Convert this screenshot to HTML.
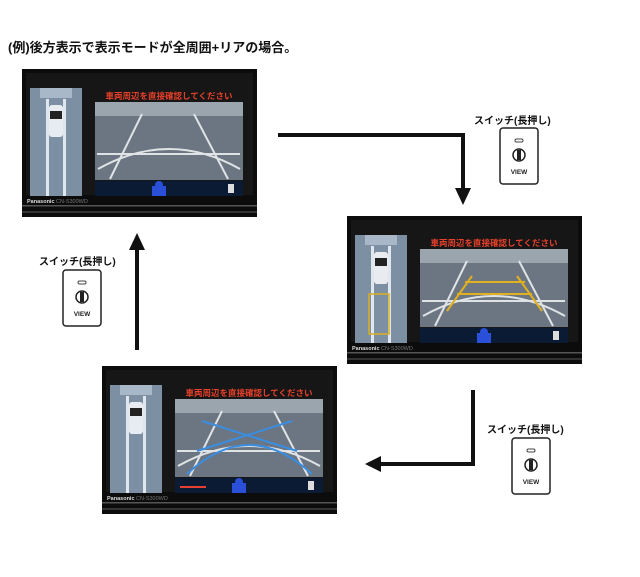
<!DOCTYPE html>
<html><head><meta charset="utf-8"><style>
html,body{margin:0;padding:0;background:#fff;}
body{width:640px;height:577px;position:relative;overflow:hidden;font-family:"Liberation Sans","Noto Sans CJK JP",sans-serif;}
svg{position:absolute;left:0;top:0;}
</style></head><body>
<svg width="640" height="577" viewBox="0 0 640 577" xmlns="http://www.w3.org/2000/svg">
<defs>
<g id="scr">
  <rect x="0" y="0" width="235" height="148" fill="#0c0c0c"/>
  <rect x="4" y="4" width="227" height="122" fill="#161616"/>
  <rect x="0" y="136" width="235" height="1.5" fill="#555"/>
  <rect x="0" y="142" width="235" height="2" fill="#333"/>
  <rect x="8" y="19" width="52" height="108" fill="#7d8fa3"/>
  <rect x="18" y="19" width="32" height="10" fill="#a9b8c9"/>
  <rect x="24" y="30" width="3" height="97" fill="#dfe6ee"/>
  <rect x="41" y="30" width="3" height="97" fill="#dfe6ee"/>
  <rect x="27" y="36" width="14" height="32" rx="3" fill="#e8ecf0"/>
  <rect x="28" y="42" width="12" height="8" fill="#222"/>
  <rect x="73" y="33" width="148" height="78" fill="#6b7682"/>
  <rect x="73" y="33" width="148" height="14" fill="#9aa5ae"/>
  <path d="M76 100 Q147 60 218 100" stroke="#dfe3e6" stroke-width="2" fill="none"/>
  <path d="M88 110 L120 45 M206 110 L172 45 M75 85 L218 85" stroke="#dfe3e6" stroke-width="2" fill="none"/>
  <rect x="73" y="112" width="148" height="15" fill="#0b1b33"/>
  <rect x="130" y="117" width="14" height="10" fill="#2a4fd8"/>
  <circle cx="137" cy="116" r="4" fill="#2a4fd8"/>
  <rect x="206" y="115" width="6" height="9" fill="#ddd"/>
  <text x="147" y="30" font-size="8.5" fill="#e8402a" text-anchor="middle" font-weight="bold">車両周辺を直接確認してください</text>
  <text x="5" y="134" font-size="5.5" fill="#ddd" font-weight="bold">Panasonic <tspan fill="#777" font-weight="normal">CN-S300WD</tspan></text>
</g>
<g id="sw">
  <rect x="0" y="0" width="38" height="56" rx="3" fill="#fff" stroke="#222" stroke-width="1.5"/>
  <rect x="15" y="11" width="8" height="3" rx="1.5" fill="#fff" stroke="#444" stroke-width="1"/>
  <circle cx="19" cy="27" r="6" fill="#fff" stroke="#222" stroke-width="1.5"/>
  <rect x="17" y="22" width="4" height="10" fill="#222"/>
  <text x="19" y="46" font-size="6.5" font-weight="bold" text-anchor="middle" fill="#222">VIEW</text>
</g>
</defs>
<text x="8" y="52" font-size="13" font-weight="bold" fill="#111">(例)後方表示で表示モードが全周囲+リアの場合。</text>
<use href="#scr" x="22" y="69"/>
<use href="#scr" x="347" y="216"/>
<g transform="translate(347,216)">
  <path d="M100 95 L125 60 M195 95 L170 60 M110 78 L185 78 M118 66 L178 66" stroke="#e0b020" stroke-width="2" fill="none"/>
  <rect x="22" y="78" width="20" height="40" fill="none" stroke="#d8b020" stroke-width="1.5"/>
</g>
<use href="#scr" x="102" y="366"/>
<g transform="translate(102,366)">
  <path d="M85 108 Q147 50 210 108 M95 85 L190 55 M195 85 L100 55" stroke="#3a8de0" stroke-width="2" fill="none"/>
  <rect x="78" y="120" width="26" height="2" fill="#e84030"/>
</g>
<!-- arrows -->
<path d="M278 135 H463 V192" stroke="#111" stroke-width="4" fill="none"/>
<path d="M455 188 L471 188 L463 205 Z" fill="#111"/>
<path d="M137 350 V247" stroke="#111" stroke-width="4" fill="none"/>
<path d="M129 250 L145 250 L137 233 Z" fill="#111"/>
<path d="M473 390 V464 H378" stroke="#111" stroke-width="4" fill="none"/>
<path d="M381 456 L381 472 L365 464 Z" fill="#111"/>
<!-- switches -->
<text x="474" y="124" font-size="10" font-weight="bold" fill="#111">スイッチ(長押し)</text>
<use href="#sw" x="500" y="128"/>
<text x="39" y="265" font-size="10" font-weight="bold" fill="#111">スイッチ(長押し)</text>
<use href="#sw" x="63" y="270"/>
<text x="487" y="433" font-size="10" font-weight="bold" fill="#111">スイッチ(長押し)</text>
<use href="#sw" x="512" y="438"/>
</svg>
</body></html>
